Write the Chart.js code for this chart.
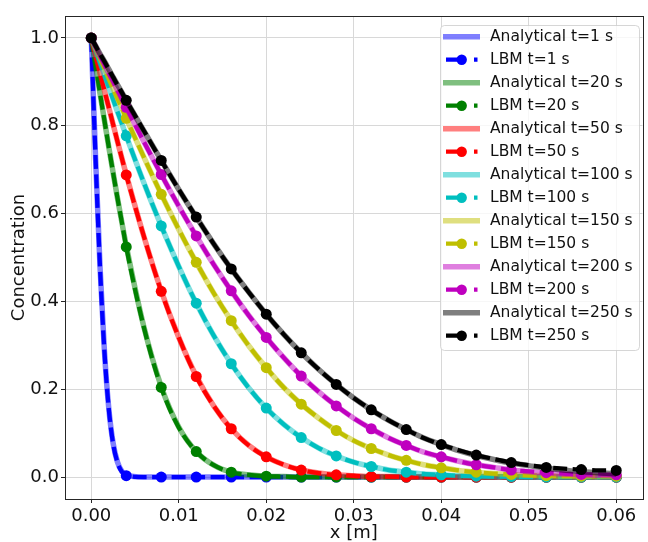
<!DOCTYPE html>
<html><head><meta charset="utf-8">
<script src="https://cdn.jsdelivr.net/npm/chart.js@4.4.0/dist/chart.umd.min.js"></script>
<style>html,body{margin:0;padding:0;background:#fff;}canvas{display:block;}</style>
</head><body>
<canvas id="c" width="648" height="542"></canvas>
<script>
// ---------- data ----------
const xGrid = [0,0.0005,0.001,0.0015,0.002,0.0025,0.003,0.0035,0.004,0.006,0.008,0.010,0.012,0.014,0.016,0.018,0.020,0.022,0.024,0.026,0.028,0.030,0.032,0.034,0.036,0.038,0.040,0.042,0.044,0.046,0.048,0.050,0.052,0.054,0.056,0.058,0.060];
const times = [1,20,50,100,150,200,250];
const markerStep = 0.004;

const ana1   = [1.000,0.724,0.480,0.289,0.157,0.077,0.034,0.013,0.005,0,0,0,0,0,0,0,0,0,0,0,0,0,0,0,0,0,0,0,0,0,0,0,0,0,0,0,0];
const lbm1   = [1.000,0.722,0.478,0.288,0.156,0.076,0.033,0.012,0.003,0,0,0,0,0,0,0,0,0,0,0,0,0,0,0,0,0,0,0,0,0,0,0,0,0,0,0,0];
const ana20  = [1.000,0.937,0.874,0.813,0.752,0.693,0.635,0.580,0.527,0.343,0.206,0.114,0.058,0.027,0.011,0.005,0.002,0.001,0,0,0,0,0,0,0,0,0,0,0,0,0,0,0,0,0,0,0];
const lbm20  = [1.000,0.937,0.874,0.813,0.752,0.693,0.635,0.580,0.524,0.342,0.204,0.113,0.058,0.027,0.011,0.005,0.002,0.001,0,0,0,0,0,0,0,0,0,0,0,0,0,0,0,0,0,0,0];
const ana50  = [1.000,0.960,0.920,0.881,0.842,0.803,0.764,0.726,0.689,0.549,0.424,0.318,0.230,0.162,0.110,0.072,0.046,0.028,0.016,0.009,0.005,0.003,0.001,0.001,0,0,0,0,0,0,0,0,0,0,0,0,0];
const lbm50  = [1.000,0.960,0.920,0.881,0.842,0.803,0.764,0.726,0.688,0.549,0.423,0.318,0.229,0.162,0.110,0.072,0.046,0.028,0.016,0.009,0.005,0.003,0.001,0.001,0,0,0,0,0,0,0,0,0,0,0,0,0];
const ana100 = [1.000,0.972,0.944,0.916,0.888,0.860,0.832,0.805,0.777,0.671,0.572,0.480,0.396,0.322,0.258,0.203,0.157,0.120,0.090,0.066,0.048,0.034,0.024,0.016,0.011,0.007,0.005,0.003,0.002,0.001,0.001,0,0,0,0,0,0];
const lbm100 = [1.000,0.972,0.944,0.916,0.888,0.860,0.832,0.805,0.777,0.671,0.572,0.480,0.396,0.322,0.258,0.203,0.157,0.120,0.090,0.066,0.048,0.034,0.024,0.016,0.011,0.007,0.005,0.003,0.002,0.001,0.001,0,0,0,0,0,0];
const ana150 = [1.000,0.977,0.954,0.931,0.908,0.885,0.862,0.840,0.817,0.729,0.644,0.564,0.489,0.419,0.356,0.299,0.249,0.204,0.166,0.134,0.106,0.083,0.065,0.050,0.038,0.028,0.021,0.015,0.011,0.008,0.006,0.004,0.003,0.002,0.001,0.001,0.001];
const lbm150 = [1.000,0.977,0.954,0.931,0.908,0.885,0.862,0.840,0.817,0.729,0.644,0.564,0.489,0.419,0.356,0.299,0.249,0.204,0.166,0.134,0.106,0.083,0.065,0.050,0.038,0.028,0.021,0.015,0.011,0.008,0.006,0.004,0.003,0.002,0.002,0.002,0.002];
const ana200 = [1.000,0.980,0.960,0.940,0.920,0.901,0.881,0.861,0.842,0.764,0.689,0.617,0.549,0.484,0.424,0.368,0.318,0.272,0.230,0.194,0.162,0.134,0.110,0.089,0.072,0.057,0.046,0.036,0.028,0.022,0.016,0.012,0.009,0.007,0.005,0.004,0.003];
const lbm200 = [1.000,0.980,0.960,0.940,0.920,0.901,0.881,0.861,0.842,0.764,0.689,0.617,0.549,0.484,0.424,0.368,0.318,0.272,0.230,0.194,0.162,0.134,0.110,0.089,0.072,0.057,0.046,0.036,0.028,0.022,0.016,0.013,0.010,0.008,0.006,0.006,0.005];
const ana250 = [1.000,0.982,0.964,0.947,0.929,0.911,0.893,0.876,0.858,0.789,0.721,0.655,0.592,0.531,0.474,0.421,0.371,0.325,0.283,0.245,0.211,0.180,0.153,0.129,0.108,0.089,0.074,0.060,0.049,0.040,0.032,0.026,0.020,0.016,0.012,0.010,0.007];
const lbm250 = [1.000,0.982,0.964,0.947,0.929,0.911,0.893,0.876,0.858,0.789,0.721,0.655,0.592,0.531,0.474,0.421,0.371,0.325,0.283,0.245,0.211,0.180,0.153,0.129,0.108,0.089,0.074,0.061,0.050,0.041,0.033,0.027,0.022,0.019,0.017,0.015,0.015];

const analytical = [ana1, ana20, ana50, ana100, ana150, ana200, ana250];
const lbm = [lbm1, lbm20, lbm50, lbm100, lbm150, lbm200, lbm250];

const xTickVals = [0,0.01,0.02,0.03,0.04,0.05,0.06];
const xTickLabels = ['0.00','0.01','0.02','0.03','0.04','0.05','0.06'];
const yTickVals = [0,0.2,0.4,0.6,0.8,1.0];
const yTickLabels = ['0.0','0.2','0.4','0.6','0.8','1.0'];

// ---------- style ----------
const colors = ['#0000ff','#008000','#ff0000','#00bfbf','#bfbf00','#bf00bf','#000000'];
function alpha(hex,a){const n=parseInt(hex.slice(1),16);return `rgba(${n>>16&255},${n>>8&255},${n&255},${a})`;}
const FONT = 'DejaVu Sans';
const markerRadii = xGrid.map(x => Math.abs(x/markerStep - Math.round(x/markerStep)) < 1e-6 ? 5.5 : 0);
const toPts = ys => xGrid.map((x,i)=>({x:x,y:ys[i]}));

const datasets = [];
times.forEach((t,i)=>{
  datasets.push({
    label:'Analytical t='+t+' s', data:toPts(analytical[i]), isLBM:false,
    borderColor:alpha(colors[i],0.5), backgroundColor:alpha(colors[i],0.5),
    borderWidth:5.5, pointRadius:0, cubicInterpolationMode:'monotone',
    borderJoinStyle:'round', borderCapStyle:'butt', fill:false
  });
  datasets.push({
    label:'LBM t='+t+' s', data:toPts(lbm[i]), isLBM:true,
    borderColor:colors[i], backgroundColor:colors[i],
    borderWidth:4.3, borderDash:[14,5.5], pointRadius:markerRadii,
    pointBackgroundColor:colors[i], pointBorderColor:colors[i], pointBorderWidth:0,
    pointHoverRadius:markerRadii, cubicInterpolationMode:'monotone',
    borderJoinStyle:'round', borderCapStyle:'butt', fill:false
  });
});
datasets.forEach((d,i)=>{ d.order = 100 - i; });

const framePlugin = {
  id:'frame',
  afterDatasetsDraw(chart){
    const {ctx, chartArea:a} = chart;
    ctx.save();
    ctx.strokeStyle='#262626'; ctx.lineWidth=1;
    ctx.strokeRect(Math.round(a.left)+0.5, Math.round(a.top)+0.5, Math.round(a.right-a.left), Math.round(a.bottom-a.top));
    ctx.restore();
  }
};

function rr(ctx,x,y,w,h,r){
  ctx.beginPath();
  ctx.moveTo(x+r,y); ctx.lineTo(x+w-r,y); ctx.arcTo(x+w,y,x+w,y+r,r);
  ctx.lineTo(x+w,y+h-r); ctx.arcTo(x+w,y+h,x+w-r,y+h,r);
  ctx.lineTo(x+r,y+h); ctx.arcTo(x,y+h,x,y+h-r,r);
  ctx.lineTo(x,y+r); ctx.arcTo(x,y,x+r,y,r); ctx.closePath();
}

const legendPlugin = {
  id:'mplLegend',
  afterDraw(chart){
    const ctx = chart.ctx;
    ctx.save();
    rr(ctx,440.5,25.5,199,325,4);
    ctx.fillStyle='rgba(255,255,255,0.8)'; ctx.fill();
    ctx.strokeStyle='rgba(204,204,204,0.8)'; ctx.lineWidth=1; ctx.stroke();
    chart.data.datasets.forEach((ds,i)=>{
      const cy = 36.7 + i*23;
      ctx.lineCap='butt';
      if(ds.isLBM){
        ctx.strokeStyle=ds.borderColor; ctx.lineWidth=ds.borderWidth;
        ctx.beginPath(); ctx.moveTo(446,cy); ctx.lineTo(463,cy); ctx.moveTo(474,cy); ctx.lineTo(477.5,cy); ctx.stroke();
        ctx.fillStyle=ds.borderColor; ctx.beginPath(); ctx.arc(461.7,cy,5.2,0,Math.PI*2); ctx.fill();
      } else {
        ctx.strokeStyle=ds.borderColor; ctx.lineWidth=ds.borderWidth;
        ctx.beginPath(); ctx.moveTo(443,cy); ctx.lineTo(480,cy); ctx.stroke();
      }
      ctx.fillStyle='#111'; ctx.font='15.5px "'+FONT+'"'; ctx.textAlign='left'; ctx.textBaseline='middle';
      ctx.fillText(ds.label,490,cy+0.5);
    });
    ctx.restore();
  }
};

new Chart(document.getElementById('c'),{
  type:'line',
  data:{datasets:datasets},
  options:{
    responsive:false, animation:false, devicePixelRatio:1,
    layout:{padding:{top:16,right:0,left:0,bottom:0}},
    plugins:{legend:{display:false}, tooltip:{enabled:false}},
    elements:{line:{tension:0}},
    scales:{
      x:{
        type:'linear', min:-0.003, max:0.063,
        afterBuildTicks:s=>{ s.ticks = xTickVals.map(v=>({value:v})); },
        afterFit:s=>{ s.height = 43; },
        ticks:{ callback:(v,i)=>xTickLabels[i], font:{family:FONT,size:18}, color:'#111', padding:3, maxRotation:0, autoSkip:false },
        grid:{ color:'#d8d8d8', lineWidth:1, tickColor:'#262626', tickLength:4, drawTicks:true },
        border:{ display:true, color:'#262626', width:1 },
        title:{ display:true, text:'x [m]', font:{family:FONT,size:18,lineHeight:1}, color:'#111', padding:{top:0,bottom:0} }
      },
      y:{
        type:'linear', min:-0.05, max:1.05,
        afterBuildTicks:s=>{ s.ticks = yTickVals.map(v=>({value:v})); },
        afterFit:s=>{ s.width = 65; },
        ticks:{ callback:(v,i)=>yTickLabels[i], font:{family:FONT,size:18}, color:'#111', padding:2, autoSkip:false },
        grid:{ color:'#d8d8d8', lineWidth:1, tickColor:'#262626', tickLength:4, drawTicks:true },
        border:{ display:true, color:'#262626', width:1 },
        title:{ display:true, text:'Concentration', font:{family:FONT,size:18,lineHeight:1}, color:'#111', padding:{top:10,bottom:0} }
      }
    }
  },
  plugins:[framePlugin, legendPlugin]
});
</script>
</body></html>
